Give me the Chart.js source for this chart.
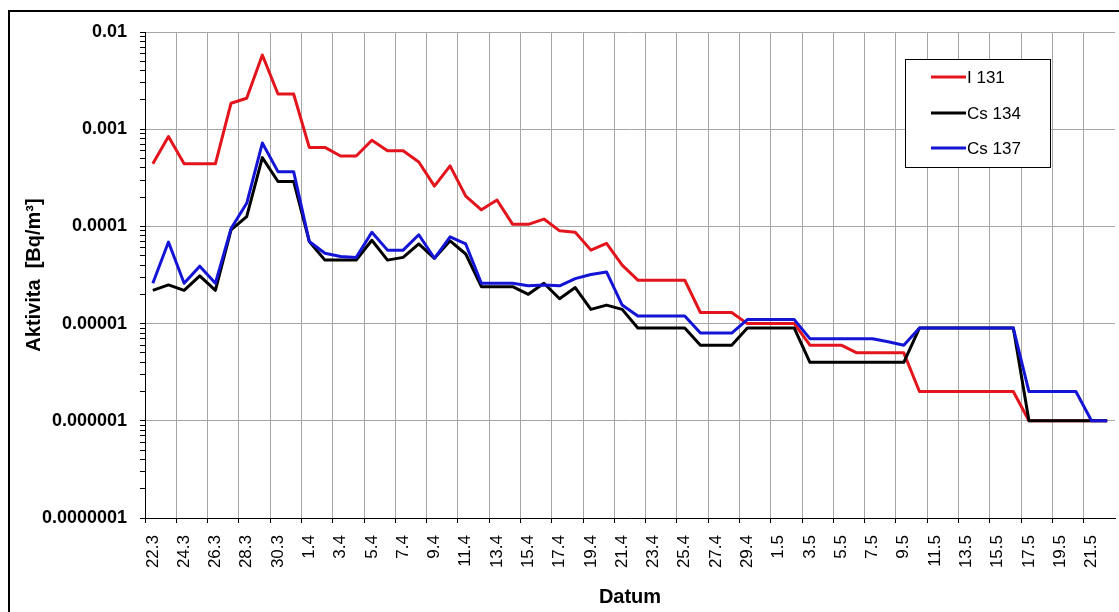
<!DOCTYPE html>
<html>
<head>
<meta charset="utf-8">
<title>Aktivita</title>
<script src="https://cdn.jsdelivr.net/npm/chart.js@4.4.1/dist/chart.umd.min.js"></script>
<style>
  html, body { margin: 0; padding: 0; background: #fff; }
  #wrap { width: 1119px; height: 612px; }
</style>
</head>
<body>
<div id="wrap"><canvas id="chart" width="1119" height="612"></canvas></div>
<script>
// Datum (den.mesic)
var dates = [
  '22.3', '23.3', '24.3', '25.3', '26.3', '27.3', '28.3', '29.3', '30.3', '31.3',
  '1.4', '2.4', '3.4', '4.4', '5.4', '6.4', '7.4', '8.4', '9.4', '10.4',
  '11.4', '12.4', '13.4', '14.4', '15.4', '16.4', '17.4', '18.4', '19.4', '20.4',
  '21.4', '22.4', '23.4', '24.4', '25.4', '26.4', '27.4', '28.4', '29.4', '30.4',
  '1.5', '2.5', '3.5', '4.5', '5.5', '6.5', '7.5', '8.5', '9.5', '10.5',
  '11.5', '12.5', '13.5', '14.5', '15.5', '16.5', '17.5', '18.5', '19.5', '20.5',
  '21.5', '22.5'
];

// Aktivita v Bq/m3
var i131 = [
  4.4e-4, 8.4e-4, 4.4e-4, 4.4e-4, 4.4e-4, 1.85e-3, 2.08e-3, 5.8e-3, 2.3e-3, 2.3e-3,
  6.5e-4, 6.5e-4, 5.3e-4, 5.3e-4, 7.7e-4, 6.0e-4, 6.0e-4, 4.6e-4, 2.6e-4, 4.2e-4,
  2.05e-4, 1.48e-4, 1.87e-4, 1.05e-4, 1.05e-4, 1.19e-4, 9.0e-5, 8.7e-5, 5.7e-5, 6.7e-5,
  4.0e-5, 2.8e-5, 2.8e-5, 2.8e-5, 2.8e-5, 1.3e-5, 1.3e-5, 1.3e-5, 1.0e-5, 1.0e-5,
  1.0e-5, 1.0e-5, 6.0e-6, 6.0e-6, 6.0e-6, 5.0e-6, 5.0e-6, 5.0e-6, 5.0e-6, 2.0e-6,
  2.0e-6, 2.0e-6, 2.0e-6, 2.0e-6, 2.0e-6, 2.0e-6, 1.0e-6, 1.0e-6, 1.0e-6, 1.0e-6,
  1.0e-6, 1.0e-6
];

var cs134 = [
  2.2e-5, 2.5e-5, 2.2e-5, 3.1e-5, 2.2e-5, 9.2e-5, 1.26e-4, 5.1e-4, 2.9e-4, 2.9e-4,
  7.0e-5, 4.5e-5, 4.5e-5, 4.5e-5, 7.2e-5, 4.5e-5, 4.8e-5, 6.6e-5, 4.7e-5, 7.1e-5,
  5.2e-5, 2.4e-5, 2.4e-5, 2.4e-5, 2.0e-5, 2.6e-5, 1.8e-5, 2.35e-5, 1.4e-5, 1.55e-5,
  1.4e-5, 9.0e-6, 9.0e-6, 9.0e-6, 9.0e-6, 6.0e-6, 6.0e-6, 6.0e-6, 9.0e-6, 9.0e-6,
  9.0e-6, 9.0e-6, 4.0e-6, 4.0e-6, 4.0e-6, 4.0e-6, 4.0e-6, 4.0e-6, 4.0e-6, 9.0e-6,
  9.0e-6, 9.0e-6, 9.0e-6, 9.0e-6, 9.0e-6, 9.0e-6, 1.0e-6, 1.0e-6, 1.0e-6, 1.0e-6,
  1.0e-6, 1.0e-6
];

var cs137 = [
  2.6e-5, 6.9e-5, 2.6e-5, 3.9e-5, 2.6e-5, 9.5e-5, 1.73e-4, 7.2e-4, 3.66e-4, 3.66e-4,
  7.0e-5, 5.3e-5, 4.9e-5, 4.8e-5, 8.7e-5, 5.7e-5, 5.7e-5, 8.2e-5, 4.7e-5, 7.8e-5,
  6.6e-5, 2.6e-5, 2.6e-5, 2.6e-5, 2.45e-5, 2.5e-5, 2.45e-5, 2.9e-5, 3.2e-5, 3.4e-5,
  1.55e-5, 1.2e-5, 1.2e-5, 1.2e-5, 1.2e-5, 8.0e-6, 8.0e-6, 8.0e-6, 1.1e-5, 1.1e-5,
  1.1e-5, 1.1e-5, 7.0e-6, 7.0e-6, 7.0e-6, 7.0e-6, 7.0e-6, 6.5e-6, 6.0e-6, 9.0e-6,
  9.0e-6, 9.0e-6, 9.0e-6, 9.0e-6, 9.0e-6, 9.0e-6, 2.0e-6, 2.0e-6, 2.0e-6, 2.0e-6,
  1.0e-6, 1.0e-6
];

var yTickValues = [1e-7, 1e-6, 1e-5, 1e-4, 1e-3, 1e-2];
var yTickLabels = ['0.0000001', '0.000001', '0.00001', '0.0001', '0.001', '0.01'];

var fontFamily = '"Liberation Sans", Arial, sans-serif';
var gridColor = '#a6a6a6';
var clear = 'rgba(0,0,0,0)';

function majorIndex(value) {
  for (var i = 0; i < yTickValues.length; i++) {
    if (Math.abs(value / yTickValues[i] - 1) < 1e-6) return i;
  }
  return -1;
}

// ramecek kolem celeho grafu
var framePlugin = {
  id: 'frame',
  beforeDraw: function (chart) {
    var ctx = chart.ctx;
    ctx.save();
    ctx.fillStyle = '#fff';
    ctx.fillRect(0, 0, chart.width, chart.height);
    ctx.strokeStyle = '#000';
    ctx.lineWidth = 2;
    ctx.beginPath();
    ctx.moveTo(9, chart.height);
    ctx.lineTo(9, 11);
    ctx.lineTo(chart.width, 11);
    ctx.stroke();
    ctx.restore();
  }
};

// legenda v pravem hornim rohu
var legendPlugin = {
  id: 'boxLegend',
  afterDraw: function (chart) {
    var ctx = chart.ctx;
    var rows = [77, 113, 148];
    ctx.save();
    ctx.fillStyle = '#fff';
    ctx.fillRect(905, 59, 145, 108);
    ctx.strokeStyle = '#000';
    ctx.lineWidth = 1;
    ctx.strokeRect(905.5, 59.5, 145, 108);
    ctx.font = '17px ' + fontFamily;
    ctx.textBaseline = 'middle';
    chart.data.datasets.forEach(function (ds, i) {
      ctx.strokeStyle = ds.borderColor;
      ctx.lineWidth = 3;
      ctx.beginPath();
      ctx.moveTo(931, rows[i]);
      ctx.lineTo(966, rows[i]);
      ctx.stroke();
      ctx.fillStyle = '#000';
      ctx.fillText(ds.label, 967, rows[i] + 1);
    });
    ctx.restore();
  }
};

new Chart(document.getElementById('chart'), {
  type: 'line',
  data: {
    labels: dates,
    datasets: [
      { label: 'I 131', data: i131, borderColor: '#e3141c', order: 3 },
      { label: 'Cs 134', data: cs134, borderColor: '#000000', order: 2 },
      { label: 'Cs 137', data: cs137, borderColor: '#1414d6', order: 1 }
    ]
  },
  options: {
    responsive: false,
    animation: false,
    layout: { padding: { top: 32, right: 4, left: 0, bottom: 0 } },
    elements: {
      point: { radius: 0 },
      line: { borderWidth: 3, tension: 0, fill: false, borderJoinStyle: 'round' }
    },
    plugins: {
      legend: { display: false },
      tooltip: { enabled: false }
    },
    scales: {
      x: {
        type: 'category',
        offset: true,
        grid: {
          offset: true,
          color: function (c) { return c.index % 2 === 0 ? gridColor : clear; },
          tickColor: function (c) { return c.index % 2 === 0 ? '#000' : clear; },
          tickLength: 5
        },
        border: { color: '#000', width: 1 },
        ticks: {
          autoSkip: false,
          minRotation: 90,
          maxRotation: 90,
          padding: 12,
          color: '#000',
          font: { family: fontFamily, size: 17 },
          callback: function (val, i) { return i % 2 === 0 ? dates[i] : ''; }
        },
        title: {
          display: true,
          text: 'Datum',
          color: '#000',
          font: { family: fontFamily, size: 20, weight: 'bold' },
          padding: { top: 0, bottom: 3 }
        },
        afterFit: function (scale) {
          scale.height = 94;
          scale.paddingLeft = 0;
          scale.paddingRight = 0;
        }
      },
      y: {
        type: 'logarithmic',
        min: 1e-7,
        max: 1e-2,
        afterBuildTicks: function (scale) {
          var ticks = [];
          for (var d = 0; d < yTickValues.length - 1; d++) {
            for (var m = 1; m <= 9; m++) ticks.push({ value: yTickValues[d] * m });
          }
          ticks.push({ value: yTickValues[yTickValues.length - 1] });
          scale.ticks = ticks;
        },
        grid: {
          color: function (c) {
            return c.tick && majorIndex(c.tick.value) >= 0 ? gridColor : clear;
          },
          tickColor: '#000',
          tickLength: 5
        },
        border: { color: '#000', width: 1 },
        ticks: {
          autoSkip: false,
          padding: 13,
          color: '#000',
          font: { family: fontFamily, size: 18, weight: 'bold' },
          callback: function (value) {
            var k = majorIndex(value);
            return k >= 0 ? yTickLabels[k] : '';
          }
        },
        title: {
          display: true,
          text: 'Aktivita  [Bq/m\u00b3]',
          color: '#000',
          font: { family: fontFamily, size: 20, weight: 'bold' },
          padding: { top: 22, bottom: 0 }
        },
        afterFit: function (scale) { scale.width = 145; }
      }
    }
  },
  plugins: [framePlugin, legendPlugin]
});
</script>
</body>
</html>
